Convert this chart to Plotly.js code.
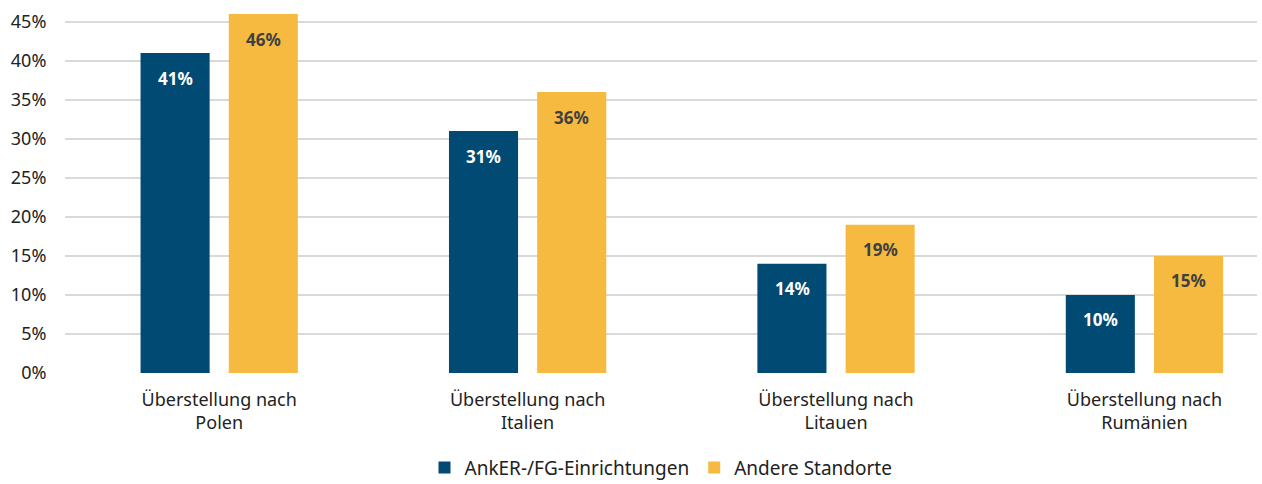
<!DOCTYPE html>
<html><head><meta charset="utf-8">
<script src="https://cdn.plot.ly/plotly-3.0.1.min.js"></script>
<style>body{margin:0;background:#fff}#chart{width:1262px;height:484px}</style>
</head><body><div id="chart"></div>
<script>
const categories = ["Überstellung nach<br>Polen", "Überstellung nach<br>Italien", "Überstellung nach<br>Litauen", "Überstellung nach<br>Rumänien"];
const seriesNames = ["AnkER-/FG-Einrichtungen", "Andere Standorte"];
const ankerValues = [41, 31, 14, 10];
const andereValues = [46, 36, 19, 15];
const yTickVals = [0, 5, 10, 15, 20, 25, 30, 35, 40, 45];
const yTickText = yTickVals.map(v => v + "%");

const FONT = "Noto Sans, Open Sans, sans-serif";
const BLUE = "#004A73", YELLOW = "#F6BA40";
const BW = 0.224, GAP = 0.031;

const traces = [
  {type: "bar", name: seriesNames[0], x: categories, y: ankerValues,
   width: BW, offset: -BW - GAP, marker: {color: BLUE}, cliponaxis: false, hoverinfo: "none"},
  {type: "bar", name: seriesNames[1], x: categories, y: andereValues,
   width: BW, offset: GAP, marker: {color: YELLOW}, cliponaxis: false, hoverinfo: "none"}
];

const annotations = [];
categories.forEach((c, i) => {
  annotations.push({x: c, y: ankerValues[i], text: "<b>" + ankerValues[i] + "%</b>", showarrow: false,
    xshift: -44, yshift: -25, font: {family: FONT, size: 17, color: "#ffffff"}});
  annotations.push({x: c, y: andereValues[i], text: "<b>" + andereValues[i] + "%</b>", showarrow: false,
    xshift: 44, yshift: -25, font: {family: FONT, size: 17, color: "#404040"}});
});

const layout = {
  width: 1262, height: 484,
  margin: {l: 65, r: 5, t: 14, b: 111},
  paper_bgcolor: "#fff", plot_bgcolor: "#fff",
  font: {family: FONT, size: 18, color: "#222"},
  showlegend: true,
  legend: {orientation: "h", x: 0.5, xanchor: "center", yref: "container", y: 0.034, yanchor: "middle",
    font: {family: FONT, size: 19, color: "#222"}, traceorder: "normal"},
  xaxis: {type: "category", range: [-0.5, 3.365], showgrid: false, zeroline: false,
    showline: false, ticks: "outside", ticklen: 10, tickcolor: "rgba(0,0,0,0)",
    tickfont: {family: FONT, size: 18, color: "#222"}},
  yaxis: {range: [0, 46], tickvals: yTickVals, ticktext: yTickText, showgrid: true,
    gridcolor: "#d9d9d9", gridwidth: 2, zeroline: false, showline: false,
    ticks: "outside", ticklen: 14, tickcolor: "rgba(0,0,0,0)",
    tickfont: {family: FONT, size: 18, color: "#222"}},
  annotations: annotations
};

Plotly.newPlot("chart", traces, layout, {displayModeBar: false, staticPlot: true});
</script>
</body></html>
